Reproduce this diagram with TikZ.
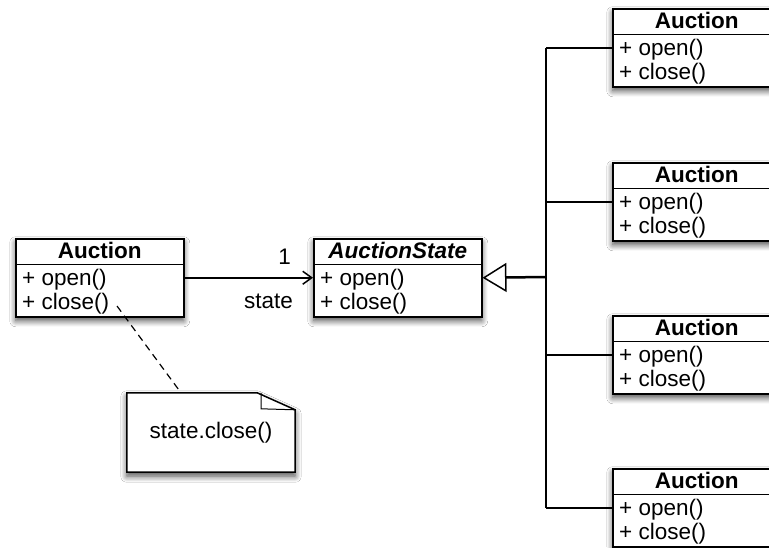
\documentclass[tikz,border=0pt]{standalone}
\usepackage{fontspec}
\setmainfont{Liberation Sans}
\usetikzlibrary{shadows.blur, arrows.meta}
\newcommand{\umlfont}{\fontsize{22.5}{26}\selectfont}
\tikzset{
  softshadow/.style={blur shadow={shadow xshift=0pt, shadow yshift=-4pt, shadow blur radius=6pt, shadow blur steps=8, shadow opacity=70}},
  classbox/.style={draw, line width=1.5pt, fill=white, minimum width=168pt, minimum height=78pt, inner sep=0pt, anchor=north west, softshadow},
  classtitle/.style={font=\umlfont\bfseries, anchor=base, inner sep=0pt},
  member/.style={font=\umlfont, anchor=base west, inner sep=0pt},
  assoclabel/.style={font=\umlfont, anchor=base east, inner sep=0pt},
  conn/.style={line width=1.5pt},
}
\newcommand{\umlclass}[4]{%
  \node[classbox] (#1) at (#2,#3) {};
  \draw[line width=1pt] ([yshift=-26pt]#1.north west) -- ([yshift=-26pt]#1.north east);
  \node[classtitle] (#1-t) at ([yshift=-20.5pt]#1.north) {#4};
  \node[member] (#1-a) at ([xshift=7pt,yshift=-47pt]#1.north west) {+ open()};
  \node[member] (#1-b) at ([xshift=7pt,yshift=-71pt]#1.north west) {+ close()};
}
\begin{document}
\begin{tikzpicture}[x=1pt,y=-1pt]
\clip (0,0) rectangle (769,547);
\fill[white] (0,0) rectangle (769,547);

\umlclass{L}{15}{238}{Auction}
\umlclass{S}{313}{238}{\textit{AuctionState}}
\umlclass{R1}{612}{8}{Auction}
\umlclass{R2}{612}{162}{Auction}
\umlclass{R3}{612}{315}{Auction}
\umlclass{R4}{612}{468}{Auction}

% association
\draw[conn, -{Straight Barb[length=9pt,width=13pt,line width=1.5pt]}] (L.east) -- (S.west);
\node[assoclabel] (m1) at ([xshift=-22pt,yshift=13pt]S.west) {1};
\node[assoclabel] (mstate) at ([xshift=-20pt,yshift=-31pt]S.west) {state};

% generalization
\coordinate (v) at (546,277);
\draw[line width=2.5pt, -{Triangle[open,length=24pt,width=29pt,line width=1.5pt]}] (v) -- (S.east);
\draw[conn] (v |- R1.west) -- (v |- R4.west);
\foreach \r in {R1,R2,R3,R4} {\draw[conn] (v |- \r.west) -- (\r.west);}

% note
\node[font=\umlfont, minimum width=168pt, minimum height=79pt, inner sep=0pt] (note) at (211,432.5) {};
\draw[line width=1.5pt, fill=white, softshadow]
  (note.north west) -- ([xshift=-38pt]note.north east) -- ([yshift=-17pt]note.north east)
  -- (note.south east) -- (note.south west) -- cycle;
\draw[line width=1pt] ([xshift=-34pt]note.north east) -- ([xshift=-34pt,yshift=-16pt]note.north east) -- ([yshift=-17pt]note.north east);
\node[font=\umlfont, inner sep=0pt] (notetext) at (note.center) {state.close()};

\coordinate (cstart) at (117,306);
\draw[line width=1.2pt, dash pattern=on 7pt off 5pt] (cstart) -- ([xshift=-30pt]note.north);
\end{tikzpicture}
\end{document}
